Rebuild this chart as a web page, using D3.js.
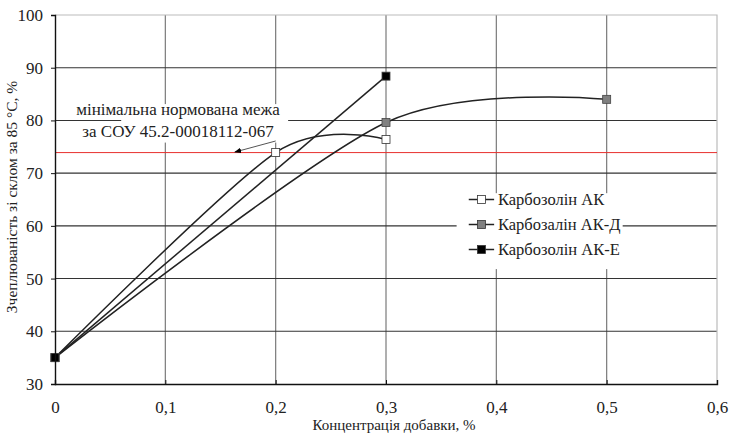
<!DOCTYPE html>
<html>
<head>
<meta charset="utf-8">
<script src="https://cdn.jsdelivr.net/npm/d3@7"></script>
</head>
<body style="margin:0">
<svg id="chart" width="730" height="433"></svg>
<script>
// Зчеплюваність зі склом залежно від концентрації добавки
var seriesNames = ["Карбозолін АК", "Карбозалін АК-Д", "Карбозолін АК-Е"];
var seriesFill = ["#ffffff", "#808080", "#000000"];

var akX = [0, 0.2, 0.3];
var akY = [35, 73.9, 76.4];

var akdX = [0, 0.3, 0.5];
var akdY = [35, 79.6, 84.0];

var akeX = [0, 0.3];
var akeY = [35, 88.4];

var xTicks = [0, 0.1, 0.2, 0.3, 0.4, 0.5, 0.6];
var yTicks = [30, 40, 50, 60, 70, 80, 90, 100];
var limitValue = 73.9;

var serif = "'Liberation Serif', 'Times New Roman'";

var margin = { left:55, right:13, top:15, bottom:49 };
var width = 730 - margin.left - margin.right;
var height = 433 - margin.top - margin.bottom;

var svg = d3.select("#chart");

var g = svg.append("g")
	.attr("transform", "translate(" + margin.left + "," + margin.top + ")");

var x = d3.scaleLinear().domain([0, 0.6]).range([0, width]);
var y = d3.scaleLinear().domain([30, 100]).range([height, 0]);

// grid
g.selectAll(".vgrid").data(xTicks.slice(1, -1)).enter()
	.append("line")
		.attr("x1", function(d){ return x(d); })
		.attr("x2", function(d){ return x(d); })
		.attr("y1", 0).attr("y2", height)
		.attr("stroke", "#7a7a7a").attr("stroke-width", 1.2);

g.selectAll(".hgrid").data(yTicks.slice(1, -1)).enter()
	.append("line")
		.attr("x1", 0).attr("x2", width)
		.attr("y1", function(d){ return y(d); })
		.attr("y2", function(d){ return y(d); })
		.attr("stroke", "#333").attr("stroke-width", 1.1);

// top and right frame
g.append("path")
	.attr("d", "M0," + y(100) + "H" + x(0.6) + "V" + y(30))
	.attr("fill", "none").attr("stroke", "#bbb").attr("stroke-width", 1.2);

// red limit line
g.append("line")
	.attr("x1", 0).attr("x2", width)
	.attr("y1", y(limitValue)).attr("y2", y(limitValue))
	.attr("stroke", "#e8302e").attr("stroke-width", 1);

// annotation box with text
var note = g.append("g");
note.append("rect")
	.attr("x", x(0.06)).attr("y", y(83.1))
	.attr("width", x(0.2113) - x(0.06)).attr("height", y(75.8) - y(83.1))
	.attr("fill", "#fff");
note.append("text")
	.attr("x", x(0.1115)).attr("y", y(81.0))
	.attr("text-anchor", "middle").attr("font-size", "17px")
	.attr("fill", "#222")
	.text("мінімальна нормована межа");
note.append("text")
	.attr("x", x(0.1115)).attr("y", y(76.9))
	.attr("text-anchor", "middle").attr("font-size", "17px")
	.attr("fill", "#222")
	.text("за СОУ 45.2-00018112-067");

svg.append("defs").append("marker")
	.attr("id", "arrow")
	.attr("viewBox", "0 0 10 10")
	.attr("refX", 9).attr("refY", 5)
	.attr("markerWidth", 7).attr("markerHeight", 7)
	.attr("orient", "auto")
	.append("path")
		.attr("d", "M0,1L10,5L0,9Z")
		.attr("fill", "#000");

g.append("line")
	.attr("x1", x(0.2)).attr("y1", y(76.1))
	.attr("x2", x(0.163)).attr("y2", y(74.0))
	.attr("stroke", "#555").attr("stroke-width", 1)
	.attr("marker-end", "url(#arrow)");

// series, smoothed like the spreadsheet
var series = [
	{ xs: akX, ys: akY },
	{ xs: akdX, ys: akdY },
	{ xs: akeX, ys: akeY }
];

var line = d3.line()
	.x(function(d){ return x(d[0]); })
	.y(function(d){ return y(d[1]); })
	.curve(d3.curveCardinal.tension(0.15));

series.forEach(function(s, i){
	var pts = s.xs.map(function(v, j){ return [v, s.ys[j]]; });
	g.append("path")
		.attr("d", line(pts))
		.attr("fill", "none")
		.attr("stroke", "#222")
		.attr("stroke-width", 1.5);
});

series.forEach(function(s, i){
	var pts = s.xs.map(function(v, j){ return [v, s.ys[j]]; });
	g.selectAll(".m" + i).data(pts).enter()
		.append("rect")
			.attr("x", function(d){ return x(d[0]) - 4; })
			.attr("y", function(d){ return y(d[1]) - 4; })
			.attr("width", 8).attr("height", 8)
			.attr("fill", seriesFill[i])
			.attr("stroke", i == 0 ? "#333" : "#444")
			.attr("stroke-width", 0.8);
});

// axes
var xAxisCall = d3.axisBottom(x)
	.tickValues(xTicks)
	.tickSize(-4)
	.tickPadding(17)
	.tickFormat(function(d){ return d === 0 ? "0" : d3.format(".1f")(d).replace(".", ","); });
var xAxisGroup = g.append("g")
	.attr("transform", "translate(0," + height + ")")
	.call(xAxisCall);

var yAxisCall = d3.axisLeft(y)
	.tickValues(yTicks)
	.tickSize(4)
	.tickPadding(8);
var yAxisGroup = g.append("g").call(yAxisCall);

[xAxisGroup, yAxisGroup].forEach(function(a){
	a.attr("font-family", null).attr("font-size", "17px");
	a.select(".domain").attr("stroke", "#111").attr("stroke-width", 1.4);
	a.selectAll(".tick line").attr("stroke", "#111");
	a.selectAll(".tick text")
		.attr("font-size", "17px")
		.attr("fill", "#222");
});

// legend
var legend = g.append("g");
legend.append("rect")
	.attr("x", x(0.364)).attr("y", y(66.2))
	.attr("width", x(0.5145) - x(0.364)).attr("height", y(51.8) - y(66.2))
	.attr("fill", "#fff");

seriesNames.forEach(function(name, i){
	var ly = y(65.0) + i * 25;
	legend.append("line")
		.attr("x1", x(0.375)).attr("x2", x(0.398))
		.attr("y1", ly).attr("y2", ly)
		.attr("stroke", "#222").attr("stroke-width", 1.5);
	legend.append("rect")
		.attr("x", x(0.3865) - 4).attr("y", ly - 4)
		.attr("width", 8).attr("height", 8)
		.attr("fill", seriesFill[i])
		.attr("stroke", "#333").attr("stroke-width", 0.8);
	legend.append("text")
		.attr("x", x(0.4015)).attr("y", ly + 5.5)
		.attr("font-size", "16.5px")
		.attr("fill", "#222")
		.text(name);
});

// axis labels
svg.append("text")
	.attr("x", 394).attr("y", 430)
	.attr("text-anchor", "middle")
	.attr("font-size", "15px")
	.attr("fill", "#222")
	.text("Концентрація добавки, %");

svg.append("text")
	.attr("transform", "rotate(-90)")
	.attr("x", -197).attr("y", 17)
	.attr("text-anchor", "middle")
	.attr("font-size", "15.5px")
	.attr("fill", "#222")
	.text("Зчеплюваність зі склом за 85 °С, %");

// set the serif face on every text, and set it again once the font is ready
function applyFont(){
	svg.selectAll("text").style("font-family", null);
	svg.node().getBoundingClientRect();
	svg.selectAll("text").style("font-family", serif);
}
applyFont();
if (document.fonts && document.fonts.load) {
	document.fonts.load("16px 'Liberation Serif'").then(applyFont, function(){});
}
setTimeout(applyFont, 30);
setTimeout(applyFont, 200);
</script>
</body>
</html>
